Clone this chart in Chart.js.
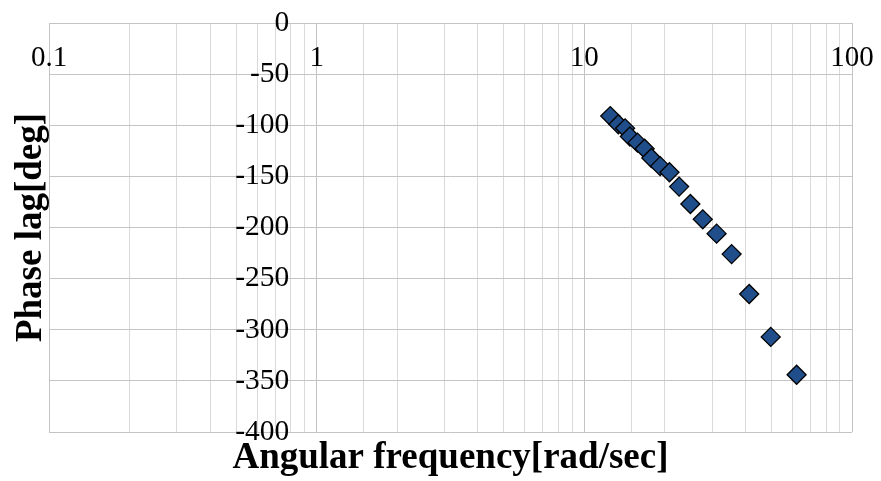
<!DOCTYPE html>
<html>
<head>
<meta charset="utf-8">
<script src="https://cdn.jsdelivr.net/npm/chart.js@4/dist/chart.umd.min.js"></script>
<style>
  html, body { margin: 0; padding: 0; background: #fff; }
  #wrap { width: 881px; height: 481px; }
</style>
</head>
<body>
<div id="wrap"><canvas id="chart" width="881" height="481"></canvas></div>
<script>
// measured response: angular frequency [rad/sec] vs phase lag [deg]
const frequency = [12.5, 13.4, 14.2, 14.8, 15.8, 16.8, 17.8, 19.2, 20.8, 22.6, 24.9, 27.7, 31.2, 35.5, 41.3, 49.7, 62.1];
const phaseLag = [-91, -99, -103, -111, -117, -123, -132, -140, -146, -160, -177, -192, -206, -226, -265, -307, -344];

const xTitle = "Angular frequency[rad/sec]";
const yTitle = "Phase lag[deg]";

const serif = "'Liberation Serif', 'Times New Roman', serif";
const gridMajor = "#c4c4c4";
const gridMinor = "#dadada";

const isDecade = (v) => Math.abs(Math.log10(v) - Math.round(Math.log10(v))) < 1e-9;

// keep label overhang from pushing the plot area around
const noOverhang = (scale) => {
  scale.paddingTop = 0;
  scale.paddingBottom = 0;
  scale.paddingLeft = 0;
  scale.paddingRight = 0;
};

// axis titles sit outside the plot, drawn after the chart
const axisTitles = {
  id: "axisTitles",
  afterDraw(chart) {
    const { ctx, chartArea } = chart;
    ctx.save();
    ctx.fillStyle = "#000";
    ctx.font = "bold 37px " + serif;
    ctx.textAlign = "center";
    ctx.textBaseline = "alphabetic";
    ctx.fillText(xTitle, (chartArea.left + chartArea.right) / 2, 468);
    ctx.translate(41, (chartArea.top + chartArea.bottom) / 2);
    ctx.rotate(-Math.PI / 2);
    ctx.fillText(yTitle, 0, 0);
    ctx.restore();
  },
};

new Chart(document.getElementById("chart"), {
  type: "scatter",
  data: {
    datasets: [
      {
        data: frequency.map((f, i) => ({ x: f, y: phaseLag[i] })),
        pointStyle: "rectRot",
        pointRadius: 9.5,
        backgroundColor: "#1f4e8a",
        borderColor: "#000",
        borderWidth: 1.3,
      },
    ],
  },
  options: {
    responsive: false,
    animation: false,
    events: [],
    layout: { padding: { left: 49, top: 23, right: 29, bottom: 49 } },
    plugins: {
      legend: { display: false },
      tooltip: { enabled: false },
    },
    scales: {
      x: {
        type: "logarithmic",
        position: { y: 0 },
        min: 0.1,
        max: 100,
        afterFit: noOverhang,
        border: { display: true, color: gridMajor, width: 1 },
        grid: {
          drawTicks: false,
          color: (c) => (c.tick && isDecade(c.tick.value) ? gridMajor : gridMinor),
        },
        ticks: {
          autoSkip: false,
          maxRotation: 0,
          padding: 18,
          color: "#000",
          font: { family: serif, size: 29 },
          callback: (v) => (isDecade(v) ? String(Number(v.toPrecision(1))) : ""),
        },
      },
      y: {
        // labels right-aligned a little left of the x = 1 gridline
        position: { x: 0.79 },
        min: -400,
        max: 0,
        afterFit: noOverhang,
        border: { display: false },
        grid: { drawTicks: false, color: gridMajor },
        ticks: {
          stepSize: 50,
          color: "#000",
          font: { family: serif, size: 29.5 },
        },
      },
    },
  },
  plugins: [axisTitles],
});
</script>
</body>
</html>
